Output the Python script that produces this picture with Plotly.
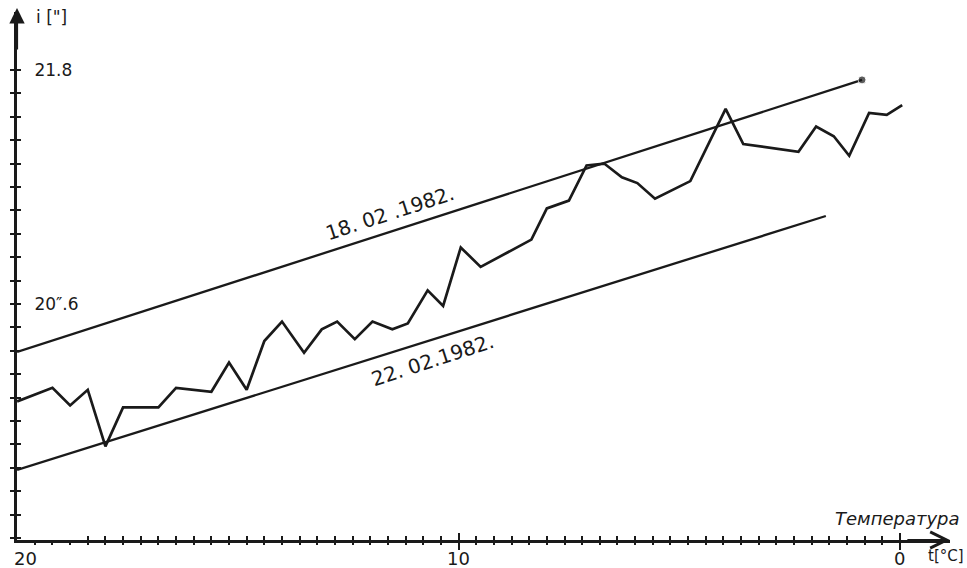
import plotly.graph_objects as go

# ---- data ----
temp = [20.0, 19.2, 18.8, 18.4, 18.0, 17.6, 16.8, 16.4, 15.6, 15.2, 14.8, 14.4,
        14.0, 13.5, 13.1, 12.75, 12.35, 11.95, 11.5, 11.15, 10.7, 10.35, 9.95, 9.5,
        8.35, 8.0, 7.5, 7.1, 6.7, 6.3, 5.95, 5.55, 4.75, 3.95, 3.55, 2.3, 1.9,
        1.5, 1.15, 0.7, 0.3, -0.05]
incl = [20.10, 20.17, 20.08, 20.16, 19.87, 20.07, 20.07, 20.17, 20.15, 20.30, 20.16,
        20.41, 20.51, 20.35, 20.47, 20.51, 20.42, 20.51, 20.47, 20.50, 20.67, 20.59,
        20.89, 20.79, 20.93, 21.09, 21.13, 21.31, 21.32, 21.25, 21.22, 21.14, 21.23,
        21.60, 21.42, 21.38, 21.51, 21.46, 21.36, 21.58, 21.57, 21.62]

line_1802_t = [20.0, 0.86]
line_1802_v = [20.354, 21.749]
line_2202_t = [20.0, 1.68]
line_2202_v = [19.749, 21.051]

x_tick_vals = [round(20 - 0.4 * k, 1) for k in range(51)]
x_major_vals = [20, 10, 0]
x_major_text = ["20", "10", "0"]
y_tick_vals = [round(21.8 - 0.12 * k, 2) for k in range(21)]
y_label_vals = [21.8, 20.6]
y_label_text = ["21.8", "20\u2033.6"]

INK = "#1a1a1a"
FONT = "DejaVu Sans"

X_RANGE = [20.003, -1.133]
Y_RANGE = [19.39, 22.097]

fig = go.Figure()

fig.add_trace(go.Scatter(x=temp, y=incl, mode="lines",
                         line=dict(color=INK, width=2.7), hoverinfo="skip",
                         showlegend=False))
fig.add_trace(go.Scatter(x=line_1802_t, y=line_1802_v, mode="lines+markers",
                         line=dict(color=INK, width=2.3),
                         marker=dict(size=[0, 8], color=INK),
                         hoverinfo="skip", showlegend=False))
fig.add_trace(go.Scatter(x=line_2202_t, y=line_2202_v, mode="lines",
                         line=dict(color=INK, width=2.3),
                         hoverinfo="skip", showlegend=False))
# helper trace for the overlaid tick axes
fig.add_trace(go.Scatter(x=[None], y=[None], xaxis="x2", yaxis="y2",
                         showlegend=False, hoverinfo="skip"))

x_minor_vals = [v for v in x_tick_vals if v not in x_major_vals]

fig.update_layout(
    width=967, height=568, autosize=False,
    margin=dict(l=17, r=17, t=12, b=28, autoexpand=False),
    paper_bgcolor="white", plot_bgcolor="white",
    font=dict(family=FONT, color=INK, size=18),
    xaxis=dict(range=X_RANGE, showgrid=False, zeroline=False, automargin=False,
               showline=True, linecolor=INK, linewidth=2.6,
               tickmode="array", tickvals=x_major_vals, ticktext=x_major_text,
               showticklabels=False,
               ticks="outside", ticklen=7, tickwidth=2, tickcolor=INK,
               minor=dict(tickmode="array", tickvals=x_minor_vals,
                          ticks="inside", ticklen=4, tickwidth=2, tickcolor=INK),
               fixedrange=True),
    xaxis2=dict(range=X_RANGE, overlaying="x", anchor="y", matches="x",
                showgrid=False, zeroline=False, showline=False, automargin=False,
                tickmode="array", tickvals=[10, 0], ticks="inside", ticklen=7,
                tickwidth=2, tickcolor=INK, showticklabels=False,
                minor=dict(tickmode="array", tickvals=x_minor_vals,
                           ticks="outside", ticklen=4, tickwidth=2, tickcolor=INK)),
    yaxis=dict(range=Y_RANGE, showgrid=False, zeroline=False, automargin=False,
               showline=True, linecolor=INK, linewidth=2.6,
               tickmode="array", tickvals=y_tick_vals,
               ticktext=[(y_label_text[y_label_vals.index(v)] if v in y_label_vals else "")
                         for v in y_tick_vals],
               ticks="outside", ticklen=4, tickwidth=2, tickcolor=INK,
               ticklabelposition="inside", ticklabelstandoff=18,
               tickfont=dict(size=17, family=FONT, color=INK),
               fixedrange=True),
    yaxis2=dict(range=Y_RANGE, overlaying="y", anchor="x", matches="y",
                showgrid=False, zeroline=False, showline=False, automargin=False,
                tickmode="array", tickvals=y_tick_vals, ticks="inside",
                ticklen=4, tickwidth=2, tickcolor=INK, showticklabels=False),
)

annotations = [
    # axis arrows
    dict(x=X_RANGE[1], y=Y_RANGE[0], ax=X_RANGE[1] + 1.0, ay=Y_RANGE[0],
         xref="x", yref="y", axref="x", ayref="y", text="", showarrow=True,
         arrowhead=5, arrowsize=1.6, arrowwidth=2, arrowcolor=INK),
    dict(x=X_RANGE[0], y=Y_RANGE[1] + 0.02, ax=X_RANGE[0], ay=Y_RANGE[1] - 0.2,
         xref="x", yref="y", axref="x", ayref="y", text="", showarrow=True,
         arrowhead=2, arrowsize=1.4, arrowwidth=2.2, arrowcolor=INK),
    # axis titles
    dict(x=19.62, y=22.07, xref="x", yref="y", text="i [\"]", showarrow=False,
         xanchor="left", yanchor="middle", font=dict(size=17, family=FONT, color=INK)),
    dict(x=-1.05, y=19.39, xref="x", yref="y", text="t[°C]", showarrow=False,
         xanchor="center", yanchor="top", yshift=-5,
         font=dict(size=15, family=FONT, color=INK)),
    dict(x=0.05, y=19.50, xref="x", yref="y", text="<i>Температура</i>",
         showarrow=False, xanchor="center", yanchor="middle",
         font=dict(size=18, family=FONT, color=INK)),
    # series labels
    dict(x=11.55, y=21.067, xref="x", yref="y", text="18. 02 .1982.",
         showarrow=False, textangle=-18, font=dict(size=20, family=FONT, color=INK)),
    dict(x=10.58, y=20.313, xref="x", yref="y", text="22. 02.1982.",
         showarrow=False, textangle=-18, font=dict(size=20, family=FONT, color=INK)),
]
# x tick labels at the major temperatures
for v, t in zip(x_major_vals, x_major_text):
    annotations.append(dict(x=v, y=Y_RANGE[0], xref="x", yref="y", text=t,
                            showarrow=False, xanchor="center", yanchor="top",
                            yshift=-6, xshift=(8 if v == 20 else 0),
                            font=dict(size=18, family=FONT, color=INK)))
fig.update_layout(annotations=annotations)

fig.write_html("out.html", config={"displayModeBar": False},
               post_script="document.body.style.margin='0';document.body.style.padding='0';")
